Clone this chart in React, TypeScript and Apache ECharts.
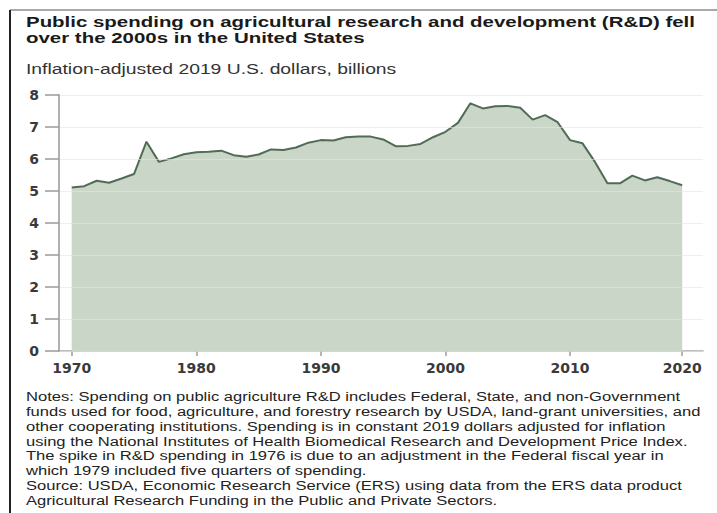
import React, { useEffect, useRef } from "react";
import * as echarts from "echarts";

const years = [
  1970, 1971, 1972, 1973, 1974, 1975, 1976, 1977, 1978, 1979,
  1980, 1981, 1982, 1983, 1984, 1985, 1986, 1987, 1988, 1989,
  1990, 1991, 1992, 1993, 1994, 1995, 1996, 1997, 1998, 1999,
  2000, 2001, 2002, 2003, 2004, 2005, 2006, 2007, 2008, 2009,
  2010, 2011, 2012, 2013, 2014, 2015, 2016, 2017, 2018, 2019,
];

const spending = [
  5.11, 5.15, 5.32, 5.26, 5.39, 5.53, 6.54, 5.91, 6.02, 6.15,
  6.21, 6.23, 6.26, 6.12, 6.07, 6.14, 6.3, 6.28, 6.36, 6.51,
  6.59, 6.58, 6.68, 6.7, 6.7, 6.61, 6.4, 6.41, 6.47, 6.68,
  6.85, 7.13, 7.74, 7.58, 7.65, 7.66, 7.6, 7.23, 7.37, 7.15,
  6.59, 6.49, 5.91, 5.24, 5.24, 5.48, 5.33, 5.43, 5.31, 5.18,
];

const xTickYears = [1970, 1980, 1990, 2000, 2010, 2019];
const xTickLabels = ["1970", "1980", "1990", "2000", "2010", "2020"];

const titleLines = [
  "Public spending on agricultural research and development (R&D) fell",
  "over the 2000s in the United States",
];
const subtitle = "Inflation-adjusted 2019 U.S. dollars, billions";
const noteLines = [
  "Notes: Spending on public agriculture R&D includes Federal, State, and non-Government",
  "funds used for food, agriculture, and forestry research by USDA, land-grant universities, and",
  "other cooperating institutions. Spending is in constant 2019 dollars adjusted for inflation",
  "using the National Institutes of Health Biomedical Research and Development Price Index.",
  "The spike in R&D spending in 1976 is due to an adjustment in the Federal fiscal year in",
  "which 1979 included five quarters of spending.",
  "Source: USDA, Economic Research Service (ERS) using data from the ERS data product",
  "Agricultural Research Funding in the Public and Private Sectors.",
];

export default function App() {
  const ref = useRef<HTMLDivElement>(null);

  useEffect(() => {
    if (!ref.current) return;
    const chart = echarts.init(ref.current, null, { renderer: "svg" });

    const graphics: any[] = [];
    graphics.push({
      type: "line",
      shape: { x1: 10, y1: 10, x2: 717, y2: 10 },
      style: { stroke: "#8c8c8c", lineWidth: 1.5 },
    });
    graphics.push({
      type: "line",
      shape: { x1: 10, y1: 10, x2: 10, y2: 513 },
      style: { stroke: "#222222", lineWidth: 2 },
    });
    const titleY = [22.5, 38.5];
    titleLines.forEach((t, i) => {
      graphics.push({
        type: "text",
        x: 26,
        y: titleY[i],
        scaleX: 1.41,
        style: {
          text: t,
          fontFamily: "Liberation Sans",
          fontWeight: "bold",
          fontSize: 14.5,
          fill: "#1a1a1a",
          align: "left",
          verticalAlign: "middle",
        },
      });
    });
    graphics.push({
      type: "text",
      x: 26,
      y: 69,
      scaleX: 1.38,
      style: {
        text: subtitle,
        fontFamily: "Liberation Sans",
        fontSize: 14,
        fill: "#333333",
        align: "left",
        verticalAlign: "middle",
      },
    });
    noteLines.forEach((t, i) => {
      graphics.push({
        type: "text",
        x: 26,
        y: 397 + i * 14.8,
        scaleX: 1.38,
        style: {
          text: t,
          fontFamily: "Liberation Sans",
          fontSize: 12,
          fill: "#222222",
          align: "left",
          verticalAlign: "middle",
        },
      });
    });

    chart.setOption({
      animation: false,
      backgroundColor: "#ffffff",
      grid: { left: 59, right: 14, top: 95, bottom: 162, containLabel: false },
      xAxis: {
        type: "value",
        min: 1968.98,
        max: 2020.67,
        axisLine: { show: true, lineStyle: { color: "#a8a8a8", width: 1.5 } },
        axisTick: {
          show: true,
          customValues: xTickYears,
          length: 5,
          lineStyle: { color: "#9a9a9a", width: 1.5 },
        },
        axisLabel: {
          customValues: xTickYears,
          formatter: (v: number) => {
            const idx = xTickYears.indexOf(Math.round(v));
            return idx >= 0 ? xTickLabels[idx] : "";
          },
          margin: 10,
          fontFamily: "DejaVu Sans",
          fontWeight: "bold",
          fontSize: 14,
          color: "#3a3a3a",
        },
        splitLine: { show: false },
      },
      yAxis: {
        type: "value",
        min: 0,
        max: 8,
        interval: 1,
        z: 4,
        axisLine: { show: true, lineStyle: { color: "#b0b0b0", width: 2 } },
        axisTick: { show: true, length: 14, lineStyle: { color: "#9a9a9a", width: 1.5 } },
        axisLabel: {
          margin: 20,
          fontFamily: "DejaVu Sans",
          fontWeight: "bold",
          fontSize: 14,
          color: "#3a3a3a",
        },
        splitLine: { show: true, lineStyle: { color: "rgba(228,228,228,0.6)", width: 1 } },
      },
      series: [
        {
          type: "line",
          data: years.map((y, i) => [y, spending[i]]),
          showSymbol: false,
          symbol: "none",
          lineStyle: { color: "#506c55", width: 2 },
          areaStyle: { color: "#c9d6c8", opacity: 1 },
          z: 3,
        },
      ],
      graphic: graphics,
    });

    return () => chart.dispose();
  }, []);

  return (
    <div
      ref={ref}
      style={{ position: "fixed", left: 0, top: 0, width: 717, height: 513, background: "#fff" }}
    />
  );
}
